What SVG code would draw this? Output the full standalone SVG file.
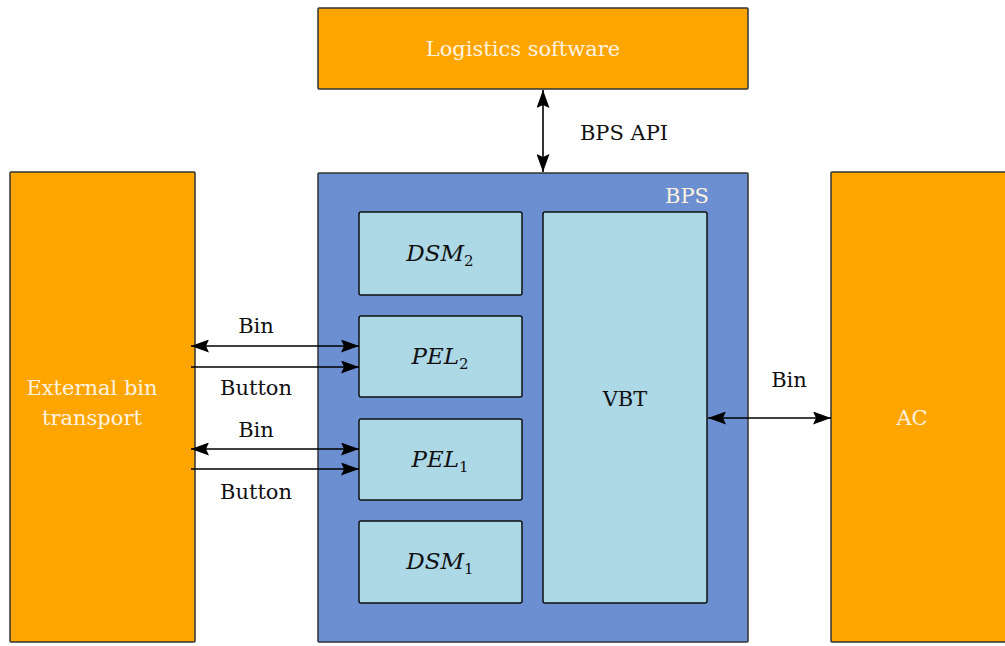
<svg xmlns="http://www.w3.org/2000/svg" width="1005" height="646" viewBox="0 0 1005 646">
<defs>
<marker id="ahl" viewBox="0 0 18 13" refX="18" refY="6.5" markerWidth="18" markerHeight="13" markerUnits="userSpaceOnUse" orient="auto-start-reverse">
<path d="M0,0 L18,6.5 L0,13 L3,6.5 Z" fill="#000"/>
</marker>
</defs>
<style>
.outer{fill:#FFA500;stroke:#333;stroke-width:1.5}
.bps{fill:#6B8FD0;stroke:#333;stroke-width:1.5}
.inner{fill:#ADD8E6;stroke:#111;stroke-width:1.5}
text{font-family:"DejaVu Serif","Liberation Serif",serif;font-size:21px;text-anchor:middle}
.wt{fill:#FFF3E0}
.t{fill:#111}
.it{font-style:italic;fill:#111;font-size:23px}
.sub{font-size:15px;font-style:normal}
.c{stroke:#000;stroke-width:1.6;fill:none}
</style>
<g id="logistics">
<rect class="outer" x="318" y="8" width="430" height="81" rx="1"/>
<text class="wt" x="523" y="56">Logistics software</text>
</g>
<g id="external">
<rect class="outer" x="10" y="172" width="185" height="470" rx="1"/>
<text class="wt" x="92" y="395">External bin</text>
<text class="wt" x="92" y="425">transport</text>
</g>
<g id="ac">
<rect class="outer" x="831" y="172" width="180" height="470" rx="1"/>
<text class="wt" x="912" y="425">AC</text>
</g>
<g id="bps">
<rect class="bps" x="318" y="173" width="430" height="469" rx="1"/>
<text class="wt" x="687" y="203">BPS</text>
</g>
<g id="dsm2">
<rect class="inner" x="359" y="212" width="163" height="83" rx="2"/>
<text class="it" x="440" y="261">DSM<tspan class="sub" dy="5">2</tspan></text>
</g>
<g id="pel2">
<rect class="inner" x="359" y="316" width="163" height="81" rx="2"/>
<text class="it" x="440" y="364">PEL<tspan class="sub" dy="5">2</tspan></text>
</g>
<g id="pel1">
<rect class="inner" x="359" y="419" width="163" height="81" rx="2"/>
<text class="it" x="440" y="467">PEL<tspan class="sub" dy="5">1</tspan></text>
</g>
<g id="dsm1">
<rect class="inner" x="359" y="521" width="163" height="82" rx="2"/>
<text class="it" x="440" y="569">DSM<tspan class="sub" dy="5">1</tspan></text>
</g>
<g id="vbt">
<rect class="inner" x="543" y="212" width="164" height="391" rx="2"/>
<text class="t" x="625" y="406">VBT</text>
</g>
<g id="connectors">
<line class="c" x1="543" y1="90" x2="543" y2="172" marker-start="url(#ahl)" marker-end="url(#ahl)"/>
<text class="t" x="624" y="140">BPS API</text>
<line class="c" x1="191" y1="346" x2="359" y2="346" marker-start="url(#ahl)" marker-end="url(#ahl)"/>
<line class="c" x1="191" y1="367" x2="359" y2="367" marker-end="url(#ahl)"/>
<line class="c" x1="191" y1="449" x2="359" y2="449" marker-start="url(#ahl)" marker-end="url(#ahl)"/>
<line class="c" x1="191" y1="469" x2="359" y2="469" marker-end="url(#ahl)"/>
<line class="c" x1="708" y1="418" x2="831" y2="418" marker-start="url(#ahl)" marker-end="url(#ahl)"/>
<text class="t" x="256" y="333">Bin</text>
<text class="t" x="256" y="395">Button</text>
<text class="t" x="256" y="437">Bin</text>
<text class="t" x="256" y="499">Button</text>
<text class="t" x="789" y="387">Bin</text>
</g>
</svg>
